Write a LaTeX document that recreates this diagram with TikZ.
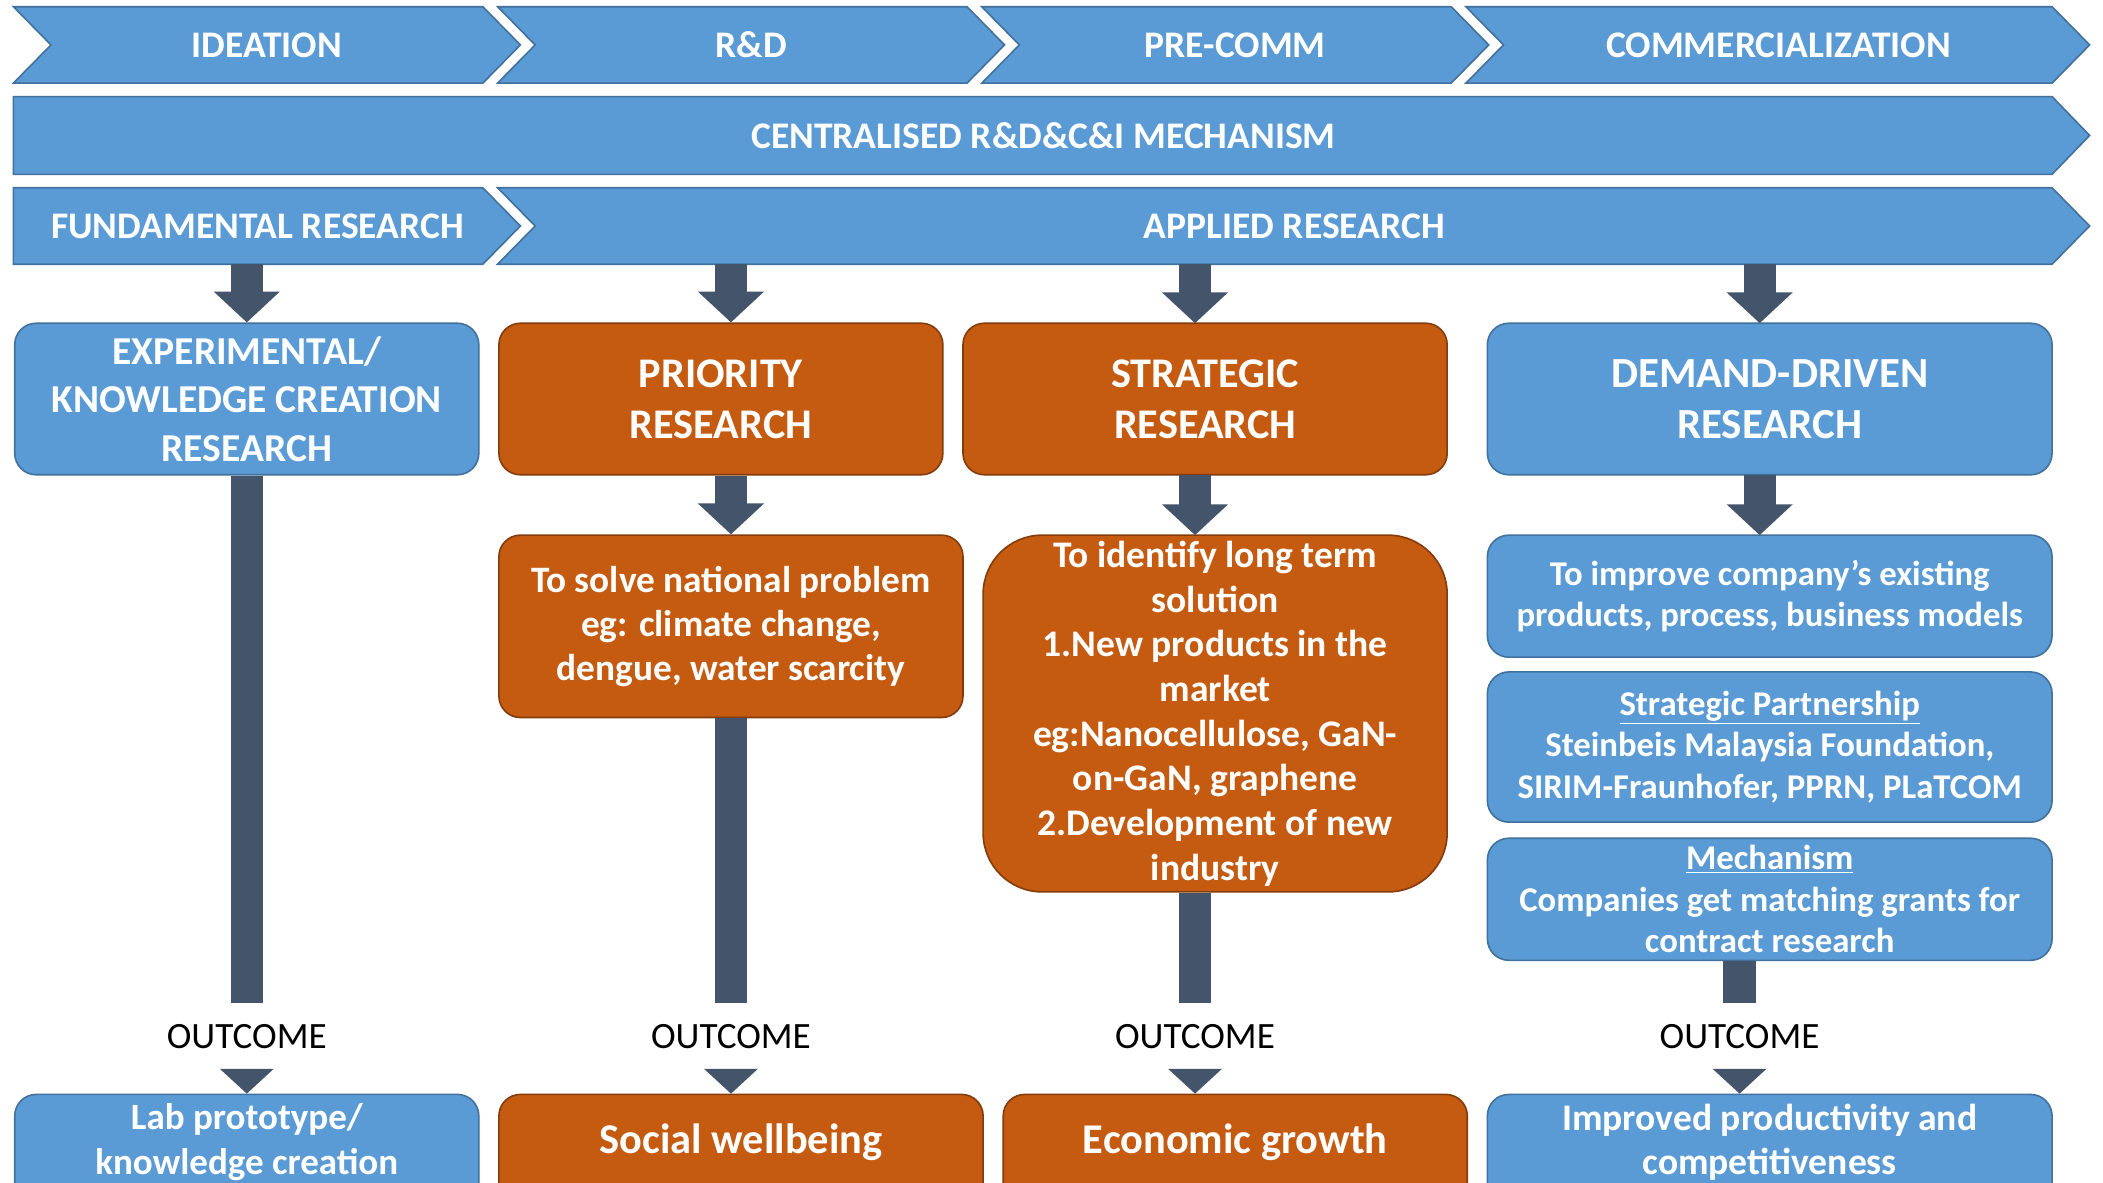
\documentclass[tikz,border=0pt]{standalone}
\usepackage{fontspec}
\setmainfont{Carlito}
\usetikzlibrary{arrows.meta,calc}
\definecolor{bfill}{HTML}{5B9BD5}
\definecolor{bline}{HTML}{41719C}
\definecolor{ofill}{HTML}{C55A11}
\definecolor{oline}{HTML}{843C0C}
\definecolor{dark}{HTML}{44546A}
\newcommand{\fs}[2]{\fontsize{#1}{#2}\selectfont}
\begin{document}
\begin{tikzpicture}[x=1pt,y=-1pt,
  chev/.style={fill=bfill,draw=bline,line width=1.2pt,line join=miter},
  chevtext/.style={text=white,font=\bfseries\fs{28}{34},inner sep=0},
  bbox/.style={draw=bline,fill=bfill,line width=1.2pt,rounded corners=16pt,text=white,align=center,inner sep=0},
  obox/.style={draw=oline,fill=ofill,line width=1.2pt,rounded corners=16pt,text=white,align=center,inner sep=0},
  shaft/.style={draw=dark,line width=24pt},
  blk/.style={draw=dark,line width=24pt,-{Triangle[width=48pt,length=23pt]}},
  outtext/.style={font=\fs{27.7}{33},inner sep=0,text=black},
  headtri/.style={fill=dark}
]
\clip (0,0) rectangle (1568,882);
\fill[white] (0,0) rectangle (1568,882);
% row 1
\draw[chev] (10,5) -- (38,33.5) -- (10,62) -- (360,62) -- (388,33.5) -- (360,5) -- cycle;
\draw[chev] (371,5) -- (399,33.5) -- (371,62) -- (721,62) -- (749,33.5) -- (721,5) -- cycle;
\draw[chev] (732,5) -- (760,33.5) -- (732,62) -- (1082,62) -- (1110,33.5) -- (1082,5) -- cycle;
\draw[chev] (1093,5) -- (1121,33.5) -- (1093,62) -- (1530,62) -- (1558,33.5) -- (1530,5) -- cycle;
\node[chevtext] (ideation) at (199,33.5) {IDEATION};
\node[chevtext] (rnd) at (560,33.5) {R\&D};
\node[chevtext] (precomm) at (921,33.5) {PRE-COMM};
\node[chevtext] (comm) at (1326,33.5) {COMMERCIALIZATION};
% row 2
\draw[chev] (10,72) -- (10,130) -- (1530,130) -- (1558,101) -- (1530,72) -- cycle;
\node[chevtext] (central) at (778,101) {CENTRALISED R\&D\&C\&I MECHANISM};
% row 3
\draw[chev] (10,140) -- (10,197) -- (360,197) -- (388,168.5) -- (360,140) -- cycle;
\draw[chev] (371,140) -- (399,168.5) -- (371,197) -- (1530,197) -- (1558,168.5) -- (1530,140) -- cycle;
\node[chevtext] (fund) at (192,168.5) {FUNDAMENTAL RESEARCH};
\node[chevtext] (applied) at (965,168.5) {APPLIED RESEARCH};
\coordinate (r3) at (0,197);
% main boxes
\node[bbox,minimum width=346,minimum height=113,font=\bfseries\fs{29.5}{36}] (exp) at (184,297.5) {EXPERIMENTAL/\\KNOWLEDGE CREATION\\RESEARCH};
\node[obox,minimum width=331,minimum height=113,font=\bfseries\fs{31.5}{38}] (prio) at (537.5,297.5) {PRIORITY\\RESEARCH};
\node[obox,minimum width=361,minimum height=113,font=\bfseries\fs{31.5}{38}] (strat) at (898.5,297.5) {STRATEGIC\\RESEARCH};
\node[bbox,minimum width=421,minimum height=113,font=\bfseries\fs{32}{38}] (demand) at (1319.5,297.5) {DEMAND-DRIVEN\\RESEARCH};
% detail boxes
\node[obox,minimum width=346,minimum height=136,font=\bfseries\fs{27.8}{33}] (pdet) at (545,467) {To solve national problem\\eg: climate change,\\dengue, water scarcity};
\node[obox,minimum width=346,minimum height=266,rounded corners=44pt,font=\bfseries\fs{28}{33.3}] (sdet) at (906,532) {To identify long term\\solution\\1.New products in the\\market\\eg:Nanocellulose, GaN-\\on-GaN, graphene\\2.Development of new\\industry};
\node[bbox,minimum width=421,minimum height=91,font=\bfseries\fs{25.9}{31}] (d1) at (1319.5,444.5) {To improve company’s existing\\products, process, business models};
\node[bbox,minimum width=421,minimum height=112,font=\bfseries\fs{25.9}{31}] (d2) at (1319.5,557) {\underline{Strategic Partnership}\\Steinbeis Malaysia Foundation,\\SIRIM-Fraunhofer, PPRN, PLaTCOM};
\node[bbox,minimum width=421,minimum height=91,font=\bfseries\fs{25.9}{31}] (d3) at (1319.5,670.5) {\underline{Mechanism}\\Companies get matching grants for\\contract research};
% bottom boxes
\node[bbox,minimum width=346,minimum height=100] (lab) at (184,866) {};
\node[obox,minimum width=361,minimum height=100] (social) at (552.5,866) {};
\node[obox,minimum width=346,minimum height=100] (econ) at (921,866) {};
\node[bbox,minimum width=421,minimum height=100] (impr) at (1319.5,866) {};
\node[text=white,align=center,font=\bfseries\fs{27.6}{33},inner sep=0] (labt) at (184,851.5) {Lab prototype/\\knowledge creation};
\node[text=white,align=center,font=\bfseries\fs{31.6}{38},inner sep=0] (socialt) at (552.5,852) {Social wellbeing};
\node[text=white,align=center,font=\bfseries\fs{31.6}{38},inner sep=0] (econt) at (921,852) {Economic growth};
\node[text=white,align=center,font=\bfseries\fs{28}{33},inner sep=0] (imprt) at (1319.5,851.5) {Improved productivity and\\competitiveness};
% outcome labels
\node[outtext] (o1) at (184,773) {OUTCOME};
\node[outtext] (o2) at (545,773) {OUTCOME};
\node[outtext] (o3) at (891,773) {OUTCOME};
\node[outtext] (o4) at (1297,773) {OUTCOME};
\coordinate (e1) at (184,748);
\coordinate (e2) at (545,748);
\coordinate (e3) at (891,748);
\coordinate (e4) at (1297,748);
% top arrows
\draw[blk] (exp.north |- r3) -- (exp.north);
\draw[blk] (pdet.north |- r3) -- (pdet.north |- prio.north);
\draw[blk] (891,197) -- (891,241);
\draw[blk] (1312,197) -- (1312,241);
% second arrows
\draw[blk] (pdet.north |- prio.south) -- (pdet.north);
\draw[blk] (891,354) -- (891,399);
\draw[blk] (1312,354) -- (1312,399);
% shafts
\draw[shaft] (exp.south) -- (e1);
\draw[shaft] (pdet.south) -- (e2);
\draw[shaft] (sdet.south -| e3) -- (e3);
\draw[shaft] (d3.south -| e4) -- (e4);
% heads
\foreach \n/\b in {1/lab,2/social,3/econ,4/impr}{
  \fill[headtri] ($(o\n.center)+(-20,24)$) -- ($(o\n.center)+(20,24)$) -- (o\n.center |- \b.north) -- cycle;
}
\end{tikzpicture}
\end{document}
